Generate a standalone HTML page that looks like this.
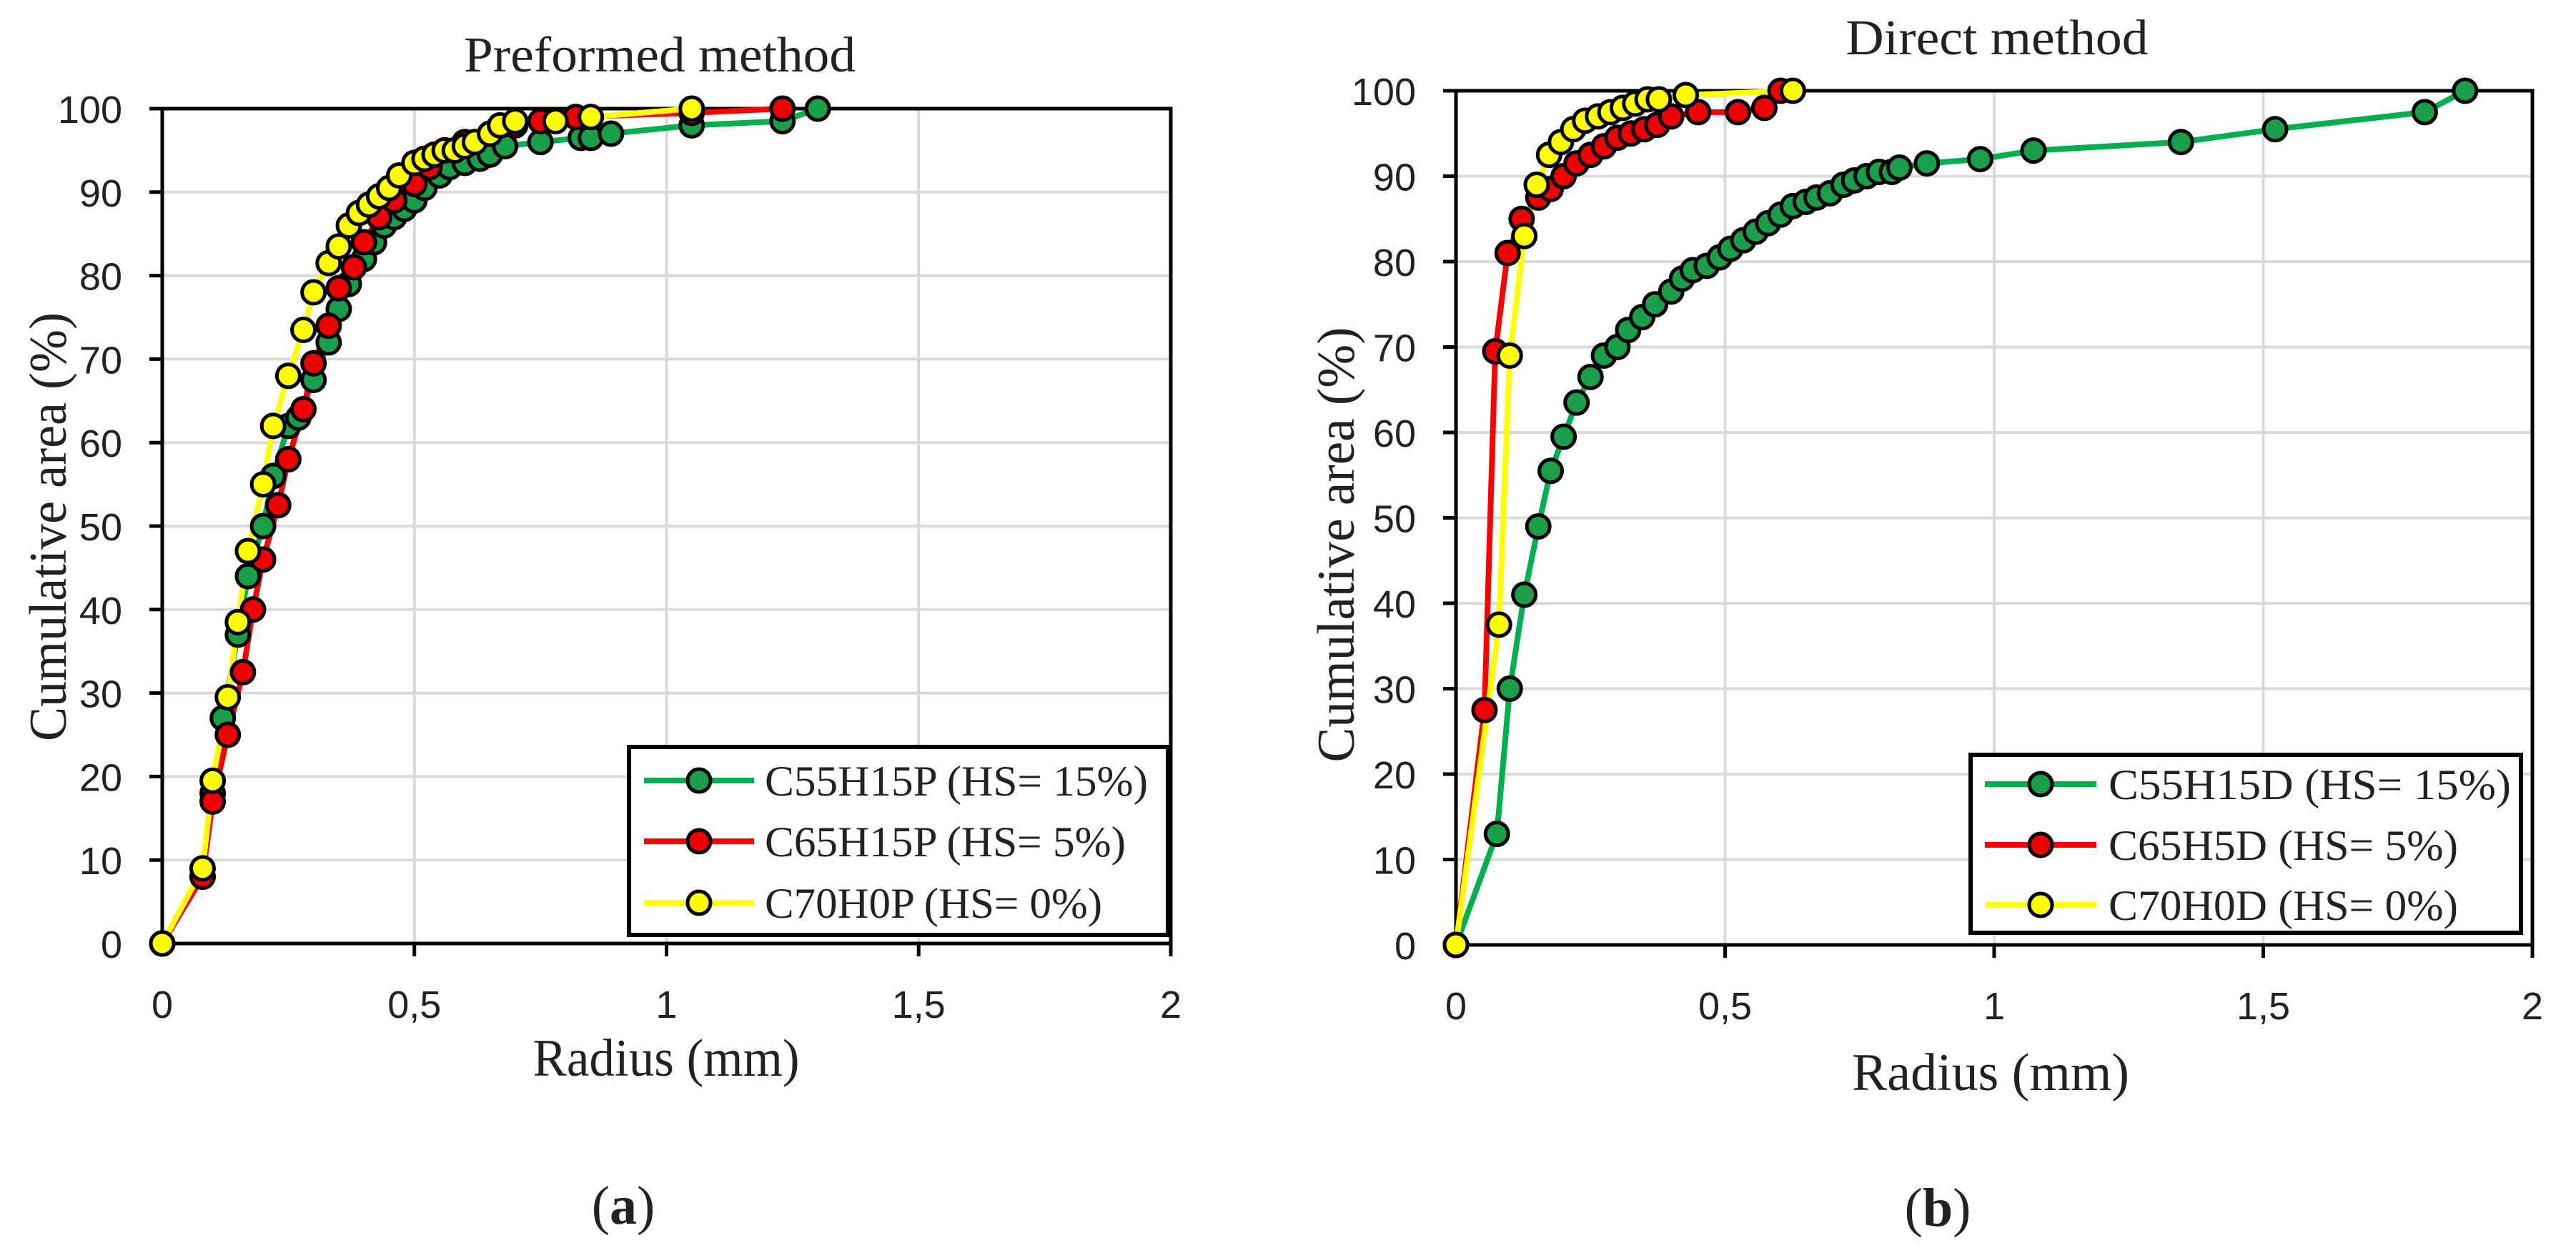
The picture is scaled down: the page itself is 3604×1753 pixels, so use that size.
<!DOCTYPE html>
<html><head><meta charset="utf-8"><style>
html,body{margin:0;padding:0;background:#fff;}
svg{display:block;}
text{font-family:"Liberation Serif",serif;fill:#222;}
</style></head><body>
<svg id="chart" width="3604" height="1753" viewBox="0 0 3604 1753" xmlns="http://www.w3.org/2000/svg"></svg>
<script>
const xTicks=[0,0.5,1,1.5,2];
const xTickLabels=["0","0,5","1","1,5","2"];
const yTicks=[0,10,20,30,40,50,60,70,80,90,100];
const yTickLabels=["0","10","20","30","40","50","60","70","80","90","100"];

const aGreenX=[0,0.08,0.1,0.12,0.15,0.17,0.2,0.22,0.25,0.27,0.3,0.33,0.35,0.37,0.4,0.42,0.44,0.46,0.48,0.5,0.52,0.55,0.57,0.6,0.63,0.65,0.68,0.75,0.83,0.85,0.89,1.05,1.23,1.3];
const aGreenY=[0,8,18,27,37,44,50,56,62,63,67.5,72,76,79,82,84,86,87,88,89,90.5,92,93,93.5,94,94.5,95.5,96,96.5,96.5,97,98,98.5,100];
const aRedX=[0,0.08,0.1,0.13,0.16,0.18,0.2,0.23,0.25,0.28,0.3,0.33,0.35,0.38,0.4,0.43,0.46,0.5,0.53,0.56,0.6,0.65,0.7,0.75,0.82,1.05,1.23];
const aRedY=[0,8,17,25,32.5,40,46,52.5,58,64,69.5,74,78.5,81,84,87,89,91,93,95,96,97,98,98.5,99,99.5,100];
const aYelX=[0,0.08,0.1,0.13,0.15,0.17,0.2,0.22,0.25,0.28,0.3,0.33,0.35,0.37,0.39,0.41,0.43,0.45,0.47,0.5,0.52,0.54,0.56,0.58,0.6,0.62,0.65,0.67,0.7,0.78,0.85,1.05];
const aYelY=[0,9,19.5,29.5,38.5,47,55,62,68,73.5,78,81.5,83.5,86,87.5,88.5,89.5,90.5,92,93.5,94,94.5,95,95,95.5,96,97,98,98.5,98.5,99,100];

const bGreenX=[0,0.076,0.1,0.127,0.153,0.176,0.2,0.224,0.25,0.275,0.3,0.32,0.346,0.37,0.4,0.42,0.44,0.466,0.49,0.51,0.534,0.557,0.58,0.603,0.626,0.65,0.67,0.695,0.72,0.74,0.763,0.786,0.81,0.824,0.875,0.974,1.073,1.347,1.522,1.8,1.875];
const bGreenY=[0,13,30,41,49,55.5,59.5,63.5,66.5,69,70,72,73.5,75,76.5,78,79,79.5,80.5,81.5,82.5,83.5,84.5,85.5,86.5,87,87.5,88,89,89.5,90,90.5,90.5,91,91.5,92,93,94,95.5,97.5,100];
const bRedX=[0,0.053,0.073,0.096,0.122,0.153,0.176,0.2,0.224,0.25,0.275,0.3,0.325,0.35,0.374,0.4,0.45,0.524,0.573,0.603];
const bRedY=[0,27.5,69.5,81,85,87.5,88.5,90,91.5,92.5,93.5,94.5,95,95.5,96,97,97.5,97.5,98,100];
const bYelX=[0,0.08,0.1,0.127,0.15,0.173,0.195,0.218,0.24,0.264,0.287,0.31,0.333,0.356,0.377,0.427,0.626];
const bYelY=[0,37.5,69,83,89,92.5,94,95.5,96.5,97,97.5,98,98.5,99,99,99.5,100];

const NS="http://www.w3.org/2000/svg";
const svg=document.getElementById('chart');
function el(tag,attrs,parent,txt){const e=document.createElementNS(NS,tag);for(const k in attrs)e.setAttribute(k,attrs[k]);if(txt!==undefined)e.textContent=txt;(parent||svg).appendChild(e);return e;}

function panel(cfg){
  const g=el('g',{});
  
  
  const sx=v=>cfg.x0+(v-0)/2*(cfg.x1-cfg.x0);
  const sy=v=>cfg.y0-(v/100)*(cfg.y0-cfg.y1);
  yTicks.forEach(t=>{if(t>0&&t<100){const l=el('line',{x1:cfg.x0,x2:cfg.x1,y1:sy(t),y2:sy(t),stroke:'#d9d9d9','stroke-width':4},g);}});
  xTicks.forEach(t=>{if(t>0&&t<2){const l=el('line',{x1:sx(t),x2:sx(t),y1:cfg.y1,y2:cfg.y0,stroke:'#d9d9d9','stroke-width':4},g);}});
  const fr=el('rect',{x:cfg.x0,y:cfg.y1,width:cfg.x1-cfg.x0,height:cfg.y0-cfg.y1,fill:'none',stroke:'#000','stroke-width':5},g);
  
  yTicks.forEach((t,i)=>{
    el('line',{x1:cfg.x0-18,x2:cfg.x0,y1:sy(t),y2:sy(t),stroke:'#000','stroke-width':5},g);
    const tx=el('text',{x:cfg.x0-56,y:sy(t)+20,'text-anchor':'end','font-size':54,style:'font-family:"Liberation Sans",sans-serif'},g,yTickLabels[i]);
    
  });
  xTicks.forEach((t,i)=>{
    el('line',{x1:sx(t),x2:sx(t),y1:cfg.y0,y2:cfg.y0+18,stroke:'#000','stroke-width':5},g);
    const tx=el('text',{x:sx(t),y:cfg.y0+104,'text-anchor':'middle','font-size':54,style:'font-family:"Liberation Sans",sans-serif'},g,xTickLabels[i]);
    
  });
  cfg.series.forEach(s=>{
    const pts=s.x.map((v,i)=>sx(v)+','+sy(s.y[i])).join(' ');
    const pl=el('polyline',{points:pts,fill:'none',stroke:s.line,'stroke-width':8,'stroke-linejoin':'round'},g);
    
  });
  cfg.series.forEach(s=>{
    s.x.forEach((v,i)=>{
      const c=el('circle',{cx:sx(v),cy:sy(s.y[i]),r:16,fill:s.fill,stroke:'#000','stroke-width':5},g);
      
    });
  });
  const L=cfg.legend;
  const lg=el('g',{},g);
  
  el('rect',{x:L.x,y:L.y,width:L.w,height:L.h,fill:'#fff',stroke:'#000','stroke-width':6},lg);
  cfg.series.forEach((s,i)=>{
    const yy=L.rows[i];
    const e=el('g',{},lg);
    
    el('line',{x1:L.lx1,x2:L.lx2,y1:yy,y2:yy,stroke:s.line,'stroke-width':8},e);
    el('circle',{cx:(L.lx1+L.lx2)/2,cy:yy,r:16,fill:s.fill,stroke:'#000','stroke-width':5},e);
    el('text',{x:L.tx,y:yy+21,'font-size':60,textLength:s.tl,lengthAdjust:'spacingAndGlyphs'},e,s.label);
  });
  const t=el('text',{x:cfg.titleX,y:cfg.titleY,'text-anchor':'middle','font-size':70,textLength:cfg.titleW,lengthAdjust:'spacingAndGlyphs'},g,cfg.title);
  
  const xt=el('text',{x:cfg.xtX,y:cfg.xtY,'text-anchor':'middle','font-size':74,textLength:cfg.xtW,lengthAdjust:'spacingAndGlyphs'},g,'Radius (mm)');
  
  const yt=el('text',{x:0,y:0,'text-anchor':'middle','font-size':74,textLength:cfg.ytW,lengthAdjust:'spacingAndGlyphs',transform:`translate(${cfg.ytX},${cfg.ytY}) rotate(-90)`},g,'Cumulative area (%)');
  
  const cap=el('text',{x:cfg.capX,y:cfg.capY,'text-anchor':'middle','font-size':76},g);
  
  el('tspan',{},cap,'(');el('tspan',{'font-weight':'bold'},cap,cfg.cap);el('tspan',{},cap,')');
}

panel({name:'panel-a-preformed',x0:227,x1:1638,y0:1320,y1:152,title:'Preformed method',titleX:923,titleY:100,titleW:548,
  xtX:932,xtY:1505,xtW:373,ytX:92,ytY:737,ytW:600,capX:872,capY:1712,cap:'a',
  legend:{x:880,y:1045,w:754,h:263,rows:[1092,1177,1263],lx1:901,lx2:1055,tx:1070},
  series:[
    {key:'c55h15p',x:aGreenX,y:aGreenY,line:'#00b050',fill:'#1a9e4a',label:'C55H15P (HS= 15%)',tl:536},
    {key:'c65h15p',x:aRedX,y:aRedY,line:'#ff0000',fill:'#f00000',label:'C65H15P (HS= 5%)',tl:505},
    {key:'c70h0p',x:aYelX,y:aYelY,line:'#ffff00',fill:'#ffff00',label:'C70H0P (HS= 0%)',tl:472}
  ]});
panel({name:'panel-b-direct',x0:2037,x1:3543,y0:1322,y1:127,title:'Direct method',titleX:2794,titleY:76,titleW:423,
  xtX:2785,xtY:1525,xtW:388,ytX:1894,ytY:762,ytW:609,capX:2711,capY:1715,cap:'b',
  legend:{x:2757,y:1056,w:770,h:249,rows:[1097,1182,1266],lx1:2777,lx2:2933,tx:2950},
  series:[
    {key:'c55h15d',x:bGreenX,y:bGreenY,line:'#00b050',fill:'#1a9e4a',label:'C55H15D (HS= 15%)',tl:563},
    {key:'c65h5d',x:bRedX,y:bRedY,line:'#ff0000',fill:'#f00000',label:'C65H5D (HS= 5%)',tl:489},
    {key:'c70h0d',x:bYelX,y:bYelY,line:'#ffff00',fill:'#ffff00',label:'C70H0D (HS= 0%)',tl:489}
  ]});
</script>
</body></html>
